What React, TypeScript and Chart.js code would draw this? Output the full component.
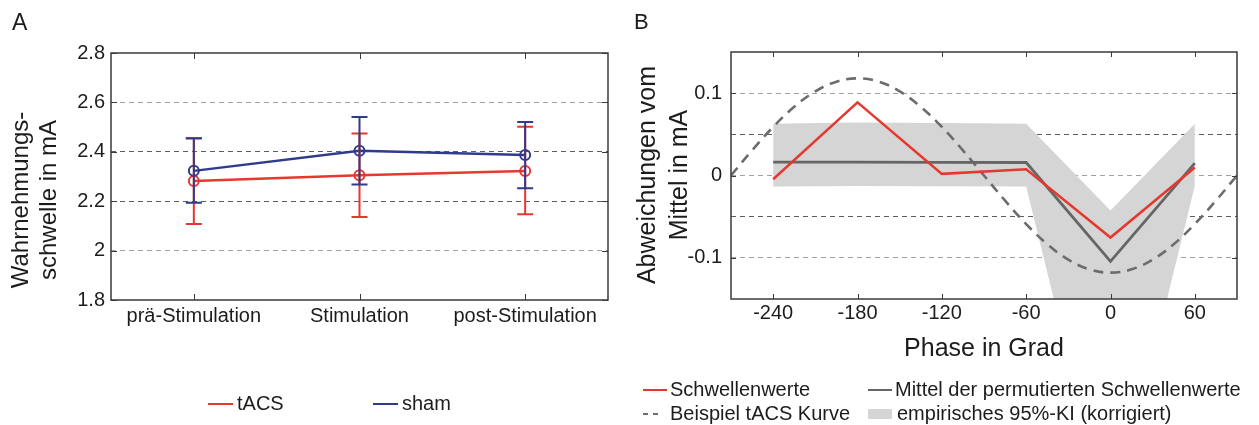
import React, { useEffect, useRef } from "react";
import { Chart, registerables } from "chart.js";

Chart.register(...registerables);

const FONT = '"Liberation Sans", Arial, Helvetica, sans-serif';
const RED = "#e5392f";
const BLUE = "#2f3b8d";
const TEXT = "#1c1c1c";
const FRAME = "#3a3a3a";
const GREY_LINE = "#666666";
const DASH_LINE = "#6c6c6c";
const BAND = "#d5d5d5";

// ---------------- Panel A data ----------------
const stages = ["prä-Stimulation", "Stimulation", "post-Stimulation"];
const tacsMean = [2.282, 2.305, 2.322];
const tacsLow = [2.108, 2.136, 2.147];
const tacsHigh = [2.456, 2.474, 2.501];
const shamMean = [2.323, 2.404, 2.387];
const shamLow = [2.194, 2.268, 2.252];
const shamHigh = [2.454, 2.541, 2.521];
const thresholdTicks = [1.8, 2, 2.2, 2.4, 2.6, 2.8];
const seriesLabelsA = ["tACS", "sham"];
const yTitleA = ["Wahrnehmungs-", "schwelle in mA"];

// ---------------- Panel B data ----------------
const phases = [-240, -180, -120, -60, 0, 60];
const thresholdDeviation = [-0.0045, 0.0888, 0.002, 0.0077, -0.0754, 0.0097];
const permutedMean = [0.0162, 0.0162, 0.016, 0.0158, -0.1042, 0.015];
const ciUpper = [0.0629, 0.0645, 0.0637, 0.0629, -0.0426, 0.063];
const ciLower = [-0.0134, -0.0128, -0.0132, -0.0134, -0.43, -0.0125];
const samplePhases = [
  -270, -255, -240, -225, -210, -195, -180, -165, -150, -135, -120, -105, -90,
  -75, -60, -45, -30, -15, 0, 15, 30, 45, 60, 75, 90,
];
const sampleCurve = [
  0, 0.0305, 0.059, 0.0834, 0.1022, 0.114, 0.118, 0.114, 0.1022, 0.0834, 0.059,
  0.0305, 0, -0.0305, -0.059, -0.0834, -0.1022, -0.114, -0.118, -0.114, -0.1022,
  -0.0834, -0.059, -0.0305, 0,
];
const phaseTicks = [-240, -180, -120, -60, 0, 60];
const deviationGrid = [-0.15, -0.1, -0.05, 0, 0.05, 0.1, 0.15];
const deviationLabels = [-0.1, 0, 0.1];
const seriesLabelsB = [
  "Schwellenwerte",
  "Mittel der permutierten Schwellenwerte",
  "Beispiel tACS Kurve",
  "empirisches 95%-KI (korrigiert)",
];
const yTitleB = ["Abweichungen vom", "Mittel in mA"];
const xTitleB = "Phase in Grad";

const near = (a: number, b: number) => Math.abs(a - b) < 1e-9;

// ---------------- plugins ----------------
const errorBarPlugin = {
  id: "errorBars",
  afterDatasetsDraw(chart: any) {
    const { ctx } = chart;
    const ys = chart.scales.y;
    for (let di = chart.data.datasets.length - 1; di >= 0; di--) {
      const ds: any = chart.data.datasets[di];
      if (!ds.errLow) continue;
      const meta = chart.getDatasetMeta(di);
      ctx.save();
      ctx.strokeStyle = ds.borderColor;
      ctx.lineWidth = 2;
      ctx.setLineDash([]);
      meta.data.forEach((pt: any, i: number) => {
        const x = pt.x;
        const yl = ys.getPixelForValue(ds.errLow[i]);
        const yh = ys.getPixelForValue(ds.errHigh[i]);
        ctx.beginPath();
        ctx.moveTo(x, yl);
        ctx.lineTo(x, yh);
        ctx.moveTo(x - 8, yl);
        ctx.lineTo(x + 8, yl);
        ctx.moveTo(x - 8, yh);
        ctx.lineTo(x + 8, yh);
        ctx.stroke();
      });
      ctx.restore();
    }
  },
};

const framePlugin = {
  id: "frame",
  afterDatasetsDraw(chart: any, _args: any, opts: any) {
    const { ctx, chartArea: a } = chart;
    const L = opts.tickLen || 5;
    ctx.save();
    ctx.setLineDash([]);
    ctx.strokeStyle = FRAME;
    ctx.lineWidth = 1;
    const xs = chart.scales.x;
    xs.ticks.forEach((_t: any, i: number) => {
      const px = Math.round(xs.getPixelForTick(i)) + 0.5;
      ctx.beginPath();
      ctx.moveTo(px, a.bottom);
      ctx.lineTo(px, a.bottom - L);
      ctx.moveTo(px, a.top);
      ctx.lineTo(px, a.top + L);
      ctx.stroke();
    });
    (opts.yMarks || []).forEach((v: number) => {
      const py = Math.round(chart.scales.y.getPixelForValue(v)) + 0.5;
      ctx.beginPath();
      ctx.moveTo(a.left, py);
      ctx.lineTo(a.left + L, py);
      ctx.moveTo(a.right, py);
      ctx.lineTo(a.right - L, py);
      ctx.stroke();
    });
    ctx.lineWidth = 1.5;
    ctx.strokeRect(a.left, a.top, a.right - a.left, a.bottom - a.top);
    ctx.restore();
  },
};

const annotationPlugin = {
  id: "annot",
  afterDraw(chart: any, _args: any, opts: any) {
    const { ctx, chartArea: a } = chart;
    ctx.save();
    ctx.fillStyle = TEXT;
    if (opts.letter) {
      ctx.font = `${opts.letter.size}px ${FONT}`;
      ctx.textAlign = "left";
      ctx.textBaseline = "alphabetic";
      ctx.fillText(opts.letter.text, opts.letter.x, opts.letter.y);
    }
    if (opts.yTitle) {
      ctx.font = `${opts.yTitle.size}px ${FONT}`;
      ctx.textAlign = "center";
      ctx.textBaseline = "middle";
      opts.yTitle.lines.forEach((line: string, i: number) => {
        ctx.save();
        ctx.translate(opts.yTitle.xs[i], opts.yTitle.y);
        ctx.rotate(-Math.PI / 2);
        ctx.fillText(line, 0, 0);
        ctx.restore();
      });
    }
    if (opts.xTitle) {
      ctx.font = `${opts.xTitle.size}px ${FONT}`;
      ctx.textAlign = "center";
      ctx.textBaseline = "alphabetic";
      ctx.fillText(opts.xTitle.text, (a.left + a.right) / 2, opts.xTitle.y);
    }
    (opts.legend || []).forEach((item: any) => {
      const ds: any = chart.data.datasets[item.ds];
      ctx.save();
      if (item.kind === "box") {
        ctx.fillStyle = ds.backgroundColor;
        ctx.fillRect(item.x, item.y - 5, item.len, 10);
      } else {
        ctx.strokeStyle = ds.borderColor;
        ctx.lineWidth = 2;
        ctx.setLineDash(item.dash || []);
        ctx.beginPath();
        ctx.moveTo(item.x, item.y);
        ctx.lineTo(item.x + item.len, item.y);
        ctx.stroke();
      }
      ctx.restore();
      ctx.font = `${opts.legendSize}px ${FONT}`;
      ctx.textAlign = "left";
      ctx.textBaseline = "middle";
      ctx.fillStyle = TEXT;
      ctx.fillText(ds.label, item.x + item.len + item.gap, item.y);
    });
    ctx.restore();
  },
};

// ---------------- chart builders ----------------
function buildA(canvas: HTMLCanvasElement) {
  return new Chart(canvas, {
    type: "line",
    data: {
      labels: stages,
      datasets: [
        {
          label: seriesLabelsA[1],
          data: shamMean,
          borderColor: BLUE,
          backgroundColor: BLUE,
          borderWidth: 2.4,
          pointRadius: 5,
          pointBorderWidth: 2,
          pointBorderColor: BLUE,
          pointBackgroundColor: "rgba(0,0,0,0)",
          tension: 0,
          errLow: shamLow,
          errHigh: shamHigh,
        } as any,
        {
          label: seriesLabelsA[0],
          data: tacsMean,
          borderColor: RED,
          backgroundColor: RED,
          borderWidth: 2.4,
          pointRadius: 5,
          pointBorderWidth: 2,
          pointBorderColor: RED,
          pointBackgroundColor: "rgba(0,0,0,0)",
          tension: 0,
          errLow: tacsLow,
          errHigh: tacsHigh,
        } as any,
      ],
    },
    options: {
      responsive: false,
      animation: false,
      events: [],
      layout: { padding: { top: 53, right: 12, left: 0, bottom: 0 } },
      plugins: {
        legend: { display: false },
        tooltip: { enabled: false },
        frame: { tickLen: 6, yMarks: thresholdTicks },
        annot: {
          letter: { text: "A", x: 12, y: 30, size: 23 },
          yTitle: { lines: yTitleA, xs: [21, 49], y: 200, size: 24 },
          legendSize: 20,
          legend: [
            { ds: 1, kind: "line", x: 208, y: 404, len: 25, gap: 4 },
            { ds: 0, kind: "line", x: 373, y: 404, len: 25, gap: 4 },
          ],
        },
      } as any,
      scales: {
        x: {
          type: "category",
          offset: true,
          grid: { display: false, drawTicks: false },
          border: { display: false },
          ticks: {
            font: { family: FONT, size: 20 },
            color: TEXT,
            padding: 4,
            maxRotation: 0,
            autoSkip: false,
          },
          afterFit: (s: any) => {
            s.height = 125;
          },
        },
        y: {
          type: "linear",
          min: 1.8,
          max: 2.8,
          afterBuildTicks: (s: any) => {
            s.ticks = thresholdTicks.map((v) => ({ value: v }));
          },
          ticks: {
            font: { family: FONT, size: 20 },
            color: TEXT,
            padding: 6,
            autoSkip: false,
            callback: (v: any) => String(Math.round(Number(v) * 10) / 10),
          },
          grid: {
            drawTicks: false,
            lineWidth: 1,
            color: (c: any) => {
              const v = c.tick ? c.tick.value : 0;
              if (near(v, 1.8) || near(v, 2.8)) return "rgba(0,0,0,0)";
              if (near(v, 2.2) || near(v, 2.4)) return "#5e5e5e";
              return "#a2a2a2";
            },
          },
          border: { display: false, dash: [5, 4] },
          afterFit: (s: any) => {
            s.width = 111;
          },
        },
      },
    } as any,
    plugins: [errorBarPlugin, framePlugin, annotationPlugin],
  });
}

function buildB(canvas: HTMLCanvasElement) {
  const pts = (xs: number[], ys: number[]) => xs.map((x, i) => ({ x, y: ys[i] }));
  return new Chart(canvas, {
    type: "line",
    data: {
      datasets: [
        {
          label: seriesLabelsB[0],
          data: pts(phases, thresholdDeviation),
          borderColor: RED,
          backgroundColor: RED,
          borderWidth: 2.5,
          pointRadius: 0,
          tension: 0,
        },
        {
          label: seriesLabelsB[1],
          data: pts(phases, permutedMean),
          borderColor: GREY_LINE,
          backgroundColor: GREY_LINE,
          borderWidth: 2.8,
          pointRadius: 0,
          tension: 0,
        },
        {
          label: seriesLabelsB[2],
          data: pts(samplePhases, sampleCurve),
          borderColor: DASH_LINE,
          backgroundColor: DASH_LINE,
          borderWidth: 2.6,
          borderDash: [10, 7],
          pointRadius: 0,
          tension: 0.4,
        },
        {
          label: seriesLabelsB[3],
          data: pts(phases, ciUpper),
          borderColor: "rgba(0,0,0,0)",
          backgroundColor: BAND,
          borderWidth: 0,
          pointRadius: 0,
          tension: 0,
          fill: "+1",
        },
        {
          label: "ci-lower",
          data: pts(phases, ciLower),
          borderColor: "rgba(0,0,0,0)",
          backgroundColor: BAND,
          borderWidth: 0,
          pointRadius: 0,
          tension: 0,
          fill: false,
        },
      ],
    },
    options: {
      responsive: false,
      animation: false,
      events: [],
      layout: { padding: { top: 52, right: 22, left: 0, bottom: 0 } },
      plugins: {
        legend: { display: false },
        tooltip: { enabled: false },
        filler: { propagate: false },
        frame: { tickLen: 5, yMarks: deviationLabels },
        annot: {
          letter: { text: "B", x: 14, y: 29, size: 22 },
          yTitle: { lines: yTitleB, xs: [28, 60], y: 175, size: 25 },
          xTitle: { text: xTitleB, y: 356, size: 25 },
          legendSize: 20,
          legend: [
            { ds: 0, kind: "line", x: 23, y: 390, len: 24, gap: 3 },
            { ds: 2, kind: "line", x: 23, y: 414, len: 17, gap: 10, dash: [5, 5] },
            { ds: 1, kind: "line", x: 248, y: 390, len: 24, gap: 3 },
            { ds: 3, kind: "box", x: 248, y: 414, len: 24, gap: 5 },
          ],
        },
      } as any,
      scales: {
        x: {
          type: "linear",
          min: -270,
          max: 90,
          afterBuildTicks: (s: any) => {
            s.ticks = phaseTicks.map((v) => ({ value: v }));
          },
          grid: { display: false, drawTicks: false },
          border: { display: false },
          ticks: {
            font: { family: FONT, size: 20 },
            color: TEXT,
            padding: 2,
            maxRotation: 0,
            autoSkip: false,
            callback: (v: any) => String(v),
          },
          afterFit: (s: any) => {
            s.height = 126;
          },
        },
        y: {
          type: "linear",
          min: -0.15,
          max: 0.15,
          afterBuildTicks: (s: any) => {
            s.ticks = deviationGrid.map((v) => ({ value: v }));
          },
          ticks: {
            font: { family: FONT, size: 20 },
            color: TEXT,
            padding: 9,
            autoSkip: false,
            callback: (v: any) =>
              deviationLabels.some((d) => near(d, Number(v)))
                ? String(Math.round(Number(v) * 100) / 100)
                : "",
          },
          grid: {
            drawTicks: false,
            lineWidth: 1,
            color: (c: any) => {
              const v = c.tick ? c.tick.value : 0;
              if (near(v, -0.15) || near(v, 0.15)) return "rgba(0,0,0,0)";
              if (near(v, 0.05) || near(v, -0.05)) return "#5e5e5e";
              return "#a2a2a2";
            },
          },
          border: { display: false, dash: [5, 4] },
          afterFit: (s: any) => {
            s.width = 111;
          },
        },
      },
    } as any,
    plugins: [framePlugin, annotationPlugin],
  });
}

function Panel({ left, width, build }: { left: number; width: number; build: (c: HTMLCanvasElement) => Chart }) {
  const ref = useRef<HTMLCanvasElement>(null);
  useEffect(() => {
    const chart = build(ref.current as HTMLCanvasElement);
    return () => chart.destroy();
  }, [build]);
  return (
    <canvas
      ref={ref}
      width={width}
      height={425}
      style={{ position: "absolute", left, top: 0, width, height: 425, display: "block" }}
    />
  );
}

export default function App() {
  return (
    <div
      style={{
        position: "absolute",
        left: 0,
        top: 0,
        width: 1259,
        height: 425,
        background: "#ffffff",
        overflow: "hidden",
      }}
    >
      <Panel left={0} width={620} build={buildA} />
      <Panel left={620} width={639} build={buildB} />
    </div>
  );
}
